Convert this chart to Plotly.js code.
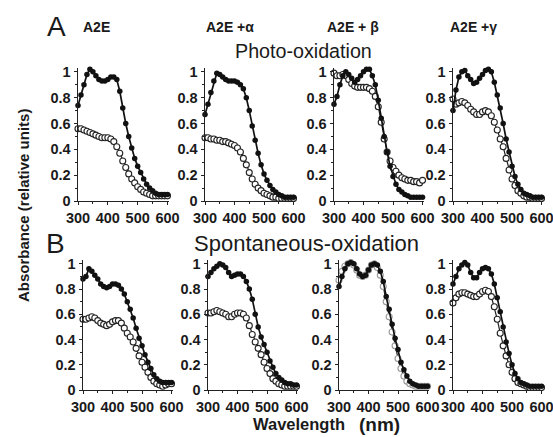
<!DOCTYPE html>
<html><head><meta charset="utf-8">
<script src="https://cdn.plot.ly/plotly-3.0.1.min.js"></script>
<style>html,body{margin:0;padding:0;background:#fff}#chart{width:553px;height:437px}</style>
</head><body><div id="chart"></div>
<script>
// Wavelength (nm)
const wavelength = [300,310,320,330,340,350,360,370,380,390,400,410,420,430,440,450,460,470,480,490,500,510,520,530,540,550,560,570,580,590,600];

// A: Photo-oxidation (filled = before, open = after)
const photoA2E_filled   = [0.74,0.82,0.90,0.98,1.02,1.00,0.97,0.94,0.93,0.93,0.94,0.96,0.96,0.94,0.85,0.72,0.60,0.50,0.41,0.33,0.27,0.22,0.17,0.13,0.10,0.08,0.06,0.05,0.05,0.05,0.05];
const photoA2E_open     = [0.56,0.56,0.55,0.54,0.53,0.52,0.51,0.50,0.49,0.49,0.49,0.48,0.46,0.42,0.37,0.31,0.26,0.21,0.17,0.14,0.11,0.09,0.07,0.06,0.05,0.04,0.04,0.04,0.04,0.04,0.04];
const photoAlpha_filled = [0.67,0.75,0.84,0.93,0.99,0.98,0.96,0.94,0.93,0.93,0.93,0.92,0.90,0.87,0.80,0.70,0.58,0.47,0.37,0.28,0.21,0.16,0.12,0.09,0.07,0.05,0.04,0.03,0.03,0.03,0.03];
const photoAlpha_open   = [0.49,0.49,0.48,0.48,0.47,0.47,0.46,0.46,0.45,0.44,0.43,0.41,0.38,0.33,0.28,0.22,0.17,0.13,0.10,0.08,0.06,0.05,0.04,0.03,0.03,0.02,0.02,0.02,0.02,0.02,0.02];
const photoBeta_filled  = [0.75,0.81,0.90,0.97,1.00,0.98,0.95,0.92,0.94,0.97,1.00,1.02,1.02,0.97,0.90,0.78,0.64,0.50,0.38,0.27,0.19,0.13,0.09,0.07,0.05,0.04,0.03,0.03,0.03,0.03,0.03];
const photoBeta_open    = [0.99,0.97,0.97,0.98,0.97,0.94,0.91,0.89,0.88,0.88,0.88,0.88,0.87,0.85,0.81,0.73,0.61,0.48,0.38,0.31,0.26,0.23,0.20,0.18,0.17,0.16,0.16,0.15,0.15,0.14,0.16];
const photoGamma_filled = [0.70,0.86,0.96,1.00,1.01,0.97,0.94,0.91,0.92,0.95,0.98,1.01,1.02,1.00,0.92,0.82,0.72,0.60,0.48,0.38,0.27,0.19,0.13,0.09,0.06,0.05,0.04,0.03,0.03,0.03,0.03];
const photoGamma_open   = [0.79,0.75,0.76,0.77,0.76,0.74,0.71,0.69,0.67,0.67,0.69,0.70,0.69,0.66,0.61,0.55,0.48,0.42,0.33,0.24,0.17,0.12,0.08,0.06,0.04,0.03,0.03,0.02,0.02,0.02,0.02];

// B: Spontaneous-oxidation
const spontA2E_filled   = [0.88,0.90,0.96,0.94,0.91,0.88,0.84,0.82,0.81,0.82,0.84,0.84,0.83,0.80,0.76,0.70,0.64,0.57,0.49,0.41,0.35,0.28,0.22,0.17,0.12,0.09,0.07,0.06,0.06,0.06,0.06];
const spontA2E_open     = [0.56,0.56,0.57,0.58,0.57,0.55,0.53,0.52,0.51,0.52,0.54,0.55,0.55,0.53,0.49,0.45,0.42,0.38,0.33,0.27,0.22,0.18,0.14,0.10,0.07,0.05,0.04,0.03,0.04,0.05,0.05];
const spontAlpha_filled = [0.90,0.93,0.96,0.98,1.00,0.99,0.97,0.93,0.90,0.91,0.92,0.92,0.90,0.86,0.80,0.72,0.60,0.50,0.42,0.36,0.30,0.23,0.18,0.13,0.10,0.08,0.06,0.05,0.05,0.04,0.04];
const spontAlpha_open   = [0.61,0.61,0.62,0.63,0.62,0.61,0.60,0.58,0.58,0.60,0.61,0.61,0.60,0.57,0.51,0.44,0.38,0.33,0.28,0.22,0.17,0.13,0.09,0.07,0.05,0.04,0.03,0.03,0.03,0.03,0.03];
const spontBeta_filled  = [0.82,0.90,0.96,1.00,1.01,1.00,0.96,0.92,0.90,0.91,0.95,0.99,1.00,0.99,0.94,0.86,0.74,0.64,0.52,0.41,0.32,0.22,0.16,0.11,0.07,0.05,0.04,0.03,0.03,0.03,0.03];
const spontBeta_open    = [0.87,0.94,0.98,1.00,1.01,0.99,0.95,0.91,0.90,0.91,0.95,0.99,1.00,0.97,0.91,0.82,0.70,0.58,0.46,0.35,0.25,0.17,0.11,0.07,0.05,0.04,0.03,0.03,0.03,0.03,0.03];
const spontGamma_filled = [0.84,0.90,0.96,0.99,1.01,0.99,0.93,0.89,0.89,0.93,0.96,0.97,0.96,0.92,0.84,0.73,0.62,0.50,0.38,0.29,0.20,0.13,0.09,0.06,0.05,0.04,0.03,0.03,0.03,0.03,0.03];
const spontGamma_open   = [0.69,0.73,0.76,0.77,0.77,0.76,0.75,0.74,0.74,0.76,0.78,0.79,0.78,0.74,0.66,0.56,0.45,0.35,0.27,0.20,0.14,0.09,0.06,0.05,0.04,0.03,0.02,0.02,0.02,0.02,0.02];

const panelLabels = ['A2E', 'A2E +α', 'A2E + β', 'A2E +γ'];
const xTickVals = [300, 400, 500, 600];
const yTickVals = [0, 0.2, 0.4, 0.6, 0.8, 1];
const yTickText = ['0', '0.2', '0.4', '0.6', '0.8', '1'];

const panels = [
  {f: photoA2E_filled,   o: photoA2E_open,   openColor: '#222'},
  {f: photoAlpha_filled, o: photoAlpha_open, openColor: '#222'},
  {f: photoBeta_filled,  o: photoBeta_open,  openColor: '#222'},
  {f: photoGamma_filled, o: photoGamma_open, openColor: '#222'},
  {f: spontA2E_filled,   o: spontA2E_open,   openColor: '#222'},
  {f: spontAlpha_filled, o: spontAlpha_open, openColor: '#222'},
  {f: spontBeta_filled,  o: spontBeta_open,  openColor: '#9a9a9a'},
  {f: spontGamma_filled, o: spontGamma_open, openColor: '#222'}
];

const W = 553, H = 437;
const xPix = [[78,169],[205,295],[334,424],[453,543],[83,173],[208,298],[339,429],[453,543]];
const yPix = [[68,201],[68,201],[68,201],[68,201],[260,390],[260,390],[260,390],[260,390]];

const traces = [];
const layout = {
  width: W, height: H,
  margin: {l:0, r:0, t:0, b:0},
  paper_bgcolor: '#fff', plot_bgcolor: '#fff',
  showlegend: false,
  font: {family: 'Liberation Sans, Arial, sans-serif', color: '#1a1a1a'},
  annotations: []
};

const tickFont = {family: 'Liberation Sans, Arial, sans-serif', size: 14.5, color: '#1a1a1a', weight: 'bold'};

panels.forEach((p, i) => {
  const n = i + 1;
  const xa = n === 1 ? 'x' : 'x' + n;
  const ya = n === 1 ? 'y' : 'y' + n;
  traces.push({
    x: wavelength, y: p.o, xaxis: xa, yaxis: ya, type: 'scatter', mode: 'lines+markers',
    cliponaxis: false,
    line: {color: '#222', width: 1.2},
    marker: {symbol: 'circle', size: 6, color: '#fff', line: {color: p.openColor, width: 1.1}}
  });
  traces.push({
    x: wavelength, y: p.f, xaxis: xa, yaxis: ya, type: 'scatter', mode: 'lines+markers',
    cliponaxis: false,
    line: {color: '#111', width: 1.7},
    marker: {symbol: 'circle', size: 5.5, color: '#111'}
  });
  const xk = n === 1 ? 'xaxis' : 'xaxis' + n;
  const yk = n === 1 ? 'yaxis' : 'yaxis' + n;
  layout[xk] = {
    domain: [xPix[i][0] / W, xPix[i][1] / W], anchor: ya,
    range: [300, 605], tickvals: xTickVals, ticktext: xTickVals.map(String),
    showgrid: false, zeroline: false, showline: true, linecolor: '#222', linewidth: 1.4,
    ticks: 'outside', ticklen: 3, tickcolor: '#222', tickwidth: 1,
    minor: {dtick: 50, tick0: 300, ticks: 'outside', ticklen: 2, tickcolor: '#222', showgrid: false},
    tickfont: tickFont, ticklabelstandoff: 0, ticklabeloverflow: 'allow', fixedrange: true
  };
  layout[yk] = {
    domain: [1 - yPix[i][1] / H, 1 - yPix[i][0] / H], anchor: xa,
    range: [0, 1.03], tickvals: yTickVals, ticktext: yTickText,
    showgrid: false, zeroline: false, showline: true, linecolor: '#222', linewidth: 1.4,
    ticks: 'outside', ticklen: 3, tickcolor: '#222', tickwidth: 1,
    minor: {dtick: 0.1, tick0: 0, ticks: 'outside', ticklen: 2, tickcolor: '#222', showgrid: false},
    tickfont: tickFont, ticklabelstandoff: 0, ticklabeloverflow: 'allow', fixedrange: true
  };
});

function ann(text, x, y, size, opts) {
  layout.annotations.push(Object.assign({
    text: text, xref: 'paper', yref: 'paper', x: x / W, y: 1 - y / H,
    xanchor: 'center', yanchor: 'middle', showarrow: false,
    font: {family: 'Liberation Sans, Arial, sans-serif', size: size, color: '#1a1a1a'}
  }, opts || {}));
}
const boldFont = (s) => ({family: 'Liberation Sans, Arial, sans-serif', size: s, color: '#1a1a1a', weight: 'bold'});

ann('A', 56, 26, 28);
ann('B', 55, 243, 28);
const labelX = [96, 230, 353, 473];
panelLabels.forEach((t, i) => ann(t, labelX[i], 27, 14, {font: boldFont(14)}));
ann('Photo-oxidation', 303, 51, 19.7);
ann('Spontaneous-oxidation', 306, 243, 22);
ann('Absorbance (relative units)', 23, 206, 15, {textangle: -90, font: boldFont(15)});
ann('Wavelength', 347, 424, 16.5, {xanchor: 'right', font: boldFont(16.5)});
ann('(nm)', 357, 424, 19, {xanchor: 'left', font: boldFont(19)});

Plotly.newPlot('chart', traces, layout, {staticPlot: true, displayModeBar: false});
</script>
</body></html>
